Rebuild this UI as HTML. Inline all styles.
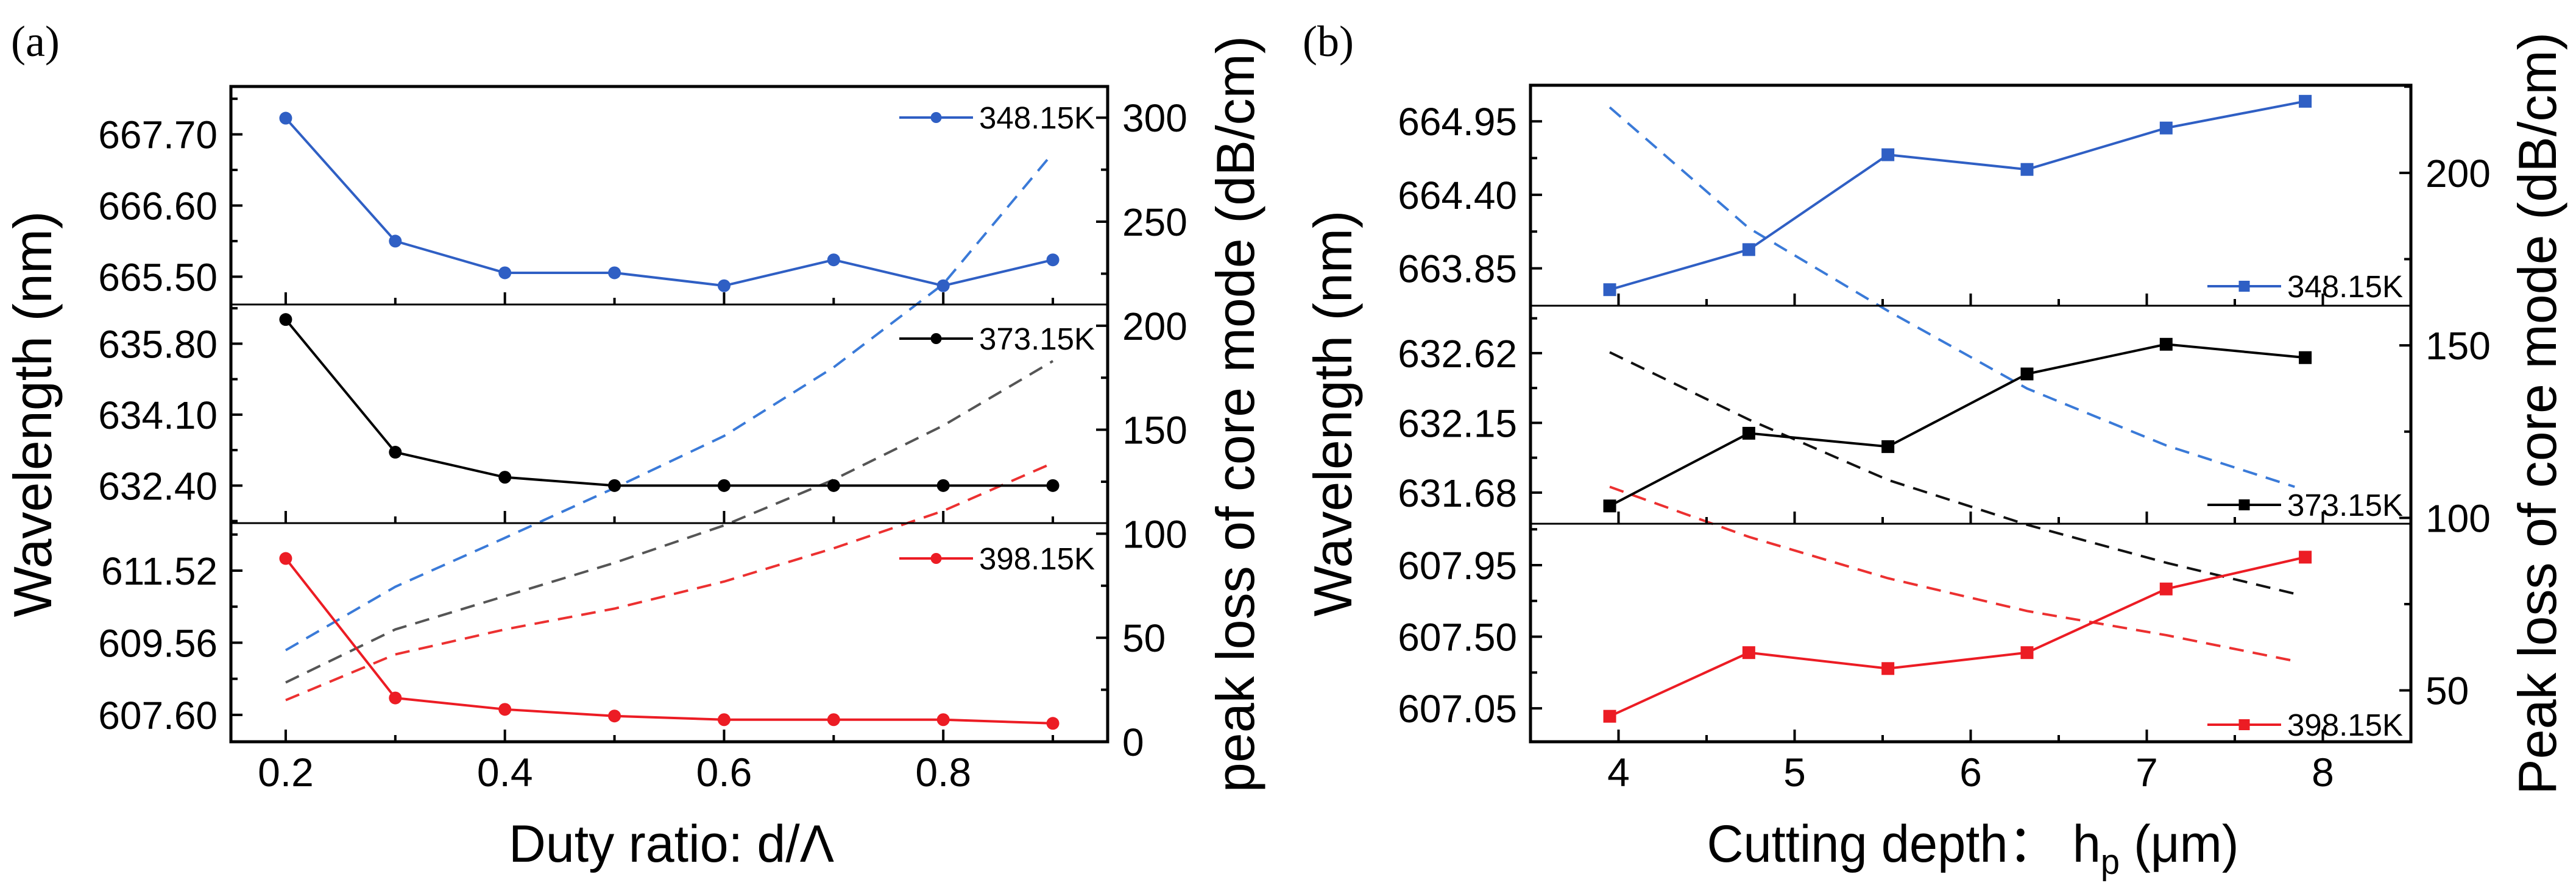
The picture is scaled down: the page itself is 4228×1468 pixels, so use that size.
<!DOCTYPE html>
<html><head><meta charset="utf-8"><style>
html,body{margin:0;padding:0;background:#fff;}
svg{display:block;font-family:"Liberation Sans",Arial,sans-serif;}
</style></head><body>
<svg id="chart" width="4228" height="1468" viewBox="0 0 4228 1468" xmlns="http://www.w3.org/2000/svg"></svg>
<script>
// ---------- Panel (a) data ----------
const aX = [0.2,0.3,0.4,0.5,0.6,0.7,0.8,0.9];
const aWl348 = [667.95,666.05,665.56,665.56,665.36,665.76,665.36,665.76];
const aWl373 = [636.38,633.20,632.60,632.40,632.40,632.40,632.40,632.40];
const aWl398 = [611.85,608.06,607.75,607.57,607.47,607.47,607.47,607.37];
const aLoss348 = [44,74.5,98,122,147,180,220,283];
const aLoss373 = [28.5,54,70,86,104,126,152,183];
const aLoss398 = [20,42,54,64,77,93,111,134];
const aXTicks = [0.2,0.4,0.6,0.8];
const aXTickLabels = ["0.2","0.4","0.6","0.8"];
const aLeftTicksTop = [667.70,666.60,665.50];
const aLeftTicksMid = [635.80,634.10,632.40];
const aLeftTicksBot = [611.52,609.56,607.60];
const aRightTicks = [0,50,100,150,200,250,300];
// ---------- Panel (b) data ----------
const bX = [3.95,4.74,5.53,6.32,7.11,7.90];
const bWl348 = [663.69,663.99,664.70,664.59,664.90,665.10];
const bWl373 = [631.59,632.08,631.99,632.48,632.68,632.59];
const bWl398 = [607.00,607.40,607.30,607.40,607.80,608.00];
const bLossX = [3.95,4.74,5.53,6.32,7.11,7.84];
const bLoss348 = [219,184,160,137.5,121,109];
const bLoss373 = [148,128.5,111,98,87,78];
const bLoss398 = [109,94.5,82.5,73,66,58.5];
const bXTicks = [4,5,6,7,8];
const bXTickLabels = ["4","5","6","7","8"];
const bLeftTicksTop = [664.95,664.40,663.85];
const bLeftTicksMid = [632.62,632.15,631.68];
const bLeftTicksBot = [607.95,607.50,607.05];
const bRightTicks = [50,100,150,200];

const svg = document.getElementById('chart');
const NS = 'http://www.w3.org/2000/svg';
function el(tag, attrs, parent){
  const e = document.createElementNS(NS, tag);
  for (const k in attrs) e.setAttribute(k, attrs[k]);
  (parent||svg).appendChild(e);
  return e;
}
function lin(d0,d1,r0,r1){ return v => r0 + (v-d0)/(d1-d0)*(r1-r0); }
function fmt(v,d){ return v.toFixed(d); }

const BLUE='#2f5fc4', BLUED='#3a7ad8', RED='#ec1c24', REDD='#ec3030', GRAYD='#555555';

function drawPanel(cfg){
  const g = el('g',{});
  
  
  const L=cfg.left,R=cfg.right,T=cfg.top,B=cfg.bottom;
  const x = lin(cfg.xmin,cfg.xmax,L,R);
  const yR = lin(cfg.rmin,cfg.rmax,B,T);
  cfg.loss.forEach((s,i)=>{
    const pts = s.vals.map((v,j)=>x(s.xs[j])+','+yR(v)).join(' ');
    const p = el('polyline',{points:pts,fill:'none',stroke:s.color,'stroke-width':4,'stroke-dasharray':'24 15'},g);
    
    
  });
  cfg.subs.forEach((sp,si)=>{
    const y = lin(sp.vmin,sp.vmax,sp.b,sp.t);
    sp.ticks.forEach((tv,k)=>{
      const ty=y(tv);
      const t=el('line',{x1:L,x2:L+19,y1:ty,y2:ty,stroke:'#000','stroke-width':4},g);
      
      
      const lab=el('text',{x:L-22,y:ty+23,'font-size':64,'text-anchor':'end',fill:'#000'},g);
      lab.textContent=fmt(tv,2);
      
      
    });
    const step = sp.ticks[0]-sp.ticks[1];
    for(let m=sp.ticks[0]+step/2; m>sp.vmin; m-=step){
      const ty=y(m); if(ty<sp.t+2||ty>sp.b-2) continue;
      const t=el('line',{x1:L,x2:L+11,y1:ty,y2:ty,stroke:'#000','stroke-width':4},g);
      
      
    }
    cfg.xAll.forEach(xv=>{
      const major = cfg.xTicks.some(v=>Math.abs(v-xv)<1e-6);
      const t=el('line',{x1:x(xv),x2:x(xv),y1:sp.b,y2:sp.b-(major?20:11),stroke:'#000','stroke-width':4},g);
      
      
    });
    const s=sp.series;
    const pts=s.vals.map((v,j)=>x(cfg.xs[j])+','+y(v)).join(' ');
    const pl=el('polyline',{points:pts,fill:'none',stroke:s.color,'stroke-width':4},g);
    
    
    s.vals.forEach((v,j)=>{
      let mk;
      if(cfg.marker==='circle') mk=el('circle',{cx:x(cfg.xs[j]),cy:y(v),r:10.5,fill:s.color},g);
      else mk=el('rect',{x:x(cfg.xs[j])-10.5,y:y(v)-10.5,width:21,height:21,fill:s.color},g);
      
      
    });
    const lg=el('g',{},g);
    
    
    const ly=sp.legendY;
    el('line',{x1:cfg.legX1,x2:cfg.legX2,y1:ly,y2:ly,stroke:s.color,'stroke-width':4},lg);
    const mx=(cfg.legX1+cfg.legX2)/2;
    if(cfg.marker==='circle') el('circle',{cx:mx,cy:ly,r:9,fill:s.color},lg);
    else el('rect',{x:mx-9,y:ly-9,width:18,height:18,fill:s.color},lg);
    const lt=el('text',{x:cfg.legX2+10,y:ly+18,'font-size':51,fill:'#000'},lg);
    lt.textContent=s.label;
    if(si<cfg.subs.length-1){
      const d=el('line',{x1:L,x2:R,y1:sp.b,y2:sp.b,stroke:'#000','stroke-width':3},g);
      
      
    }
  });
  const fr=el('rect',{x:L,y:T,width:R-L,height:B-T,fill:'none',stroke:'#000','stroke-width':5},g);
  
  
  cfg.xTicks.forEach((xv,k)=>{
    const t=el('text',{x:x(xv),y:B+73,'font-size':66,'text-anchor':'middle',fill:'#000'},g);
    t.textContent=cfg.xTickLabels[k];
    
    
  });
  cfg.rTicks.forEach(rv=>{
    const ty=yR(rv);
    const t=el('line',{x1:R,x2:R-19,y1:ty,y2:ty,stroke:'#000','stroke-width':4},g);
    
    
    const lab=el('text',{x:R+24,y:ty+23,'font-size':64,fill:'#000'},g);
    lab.textContent=String(rv);
    
    
    const m=rv+25; const my=yR(m);
    if(my>T+2){
      const mt=el('line',{x1:R,x2:R-11,y1:my,y2:my,stroke:'#000','stroke-width':4},g);
      
      
    }
  });
  const mm=cfg.rTicks[0]-25; if(yR(mm)<B-2){
    const mt=el('line',{x1:R,x2:R-11,y1:yR(mm),y2:yR(mm),stroke:'#000','stroke-width':4},g);
    
    
  }
  const cy=(T+B)/2;
  const lt=el('text',{x:cfg.leftTitleX,y:cy,'font-size':88,'text-anchor':'middle',transform:`rotate(-90 ${cfg.leftTitleX} ${cy})`,fill:'#000'},g);
  lt.textContent='Wavelength (nm)';
  
  
  const rt=el('text',{x:cfg.rightTitleX,y:cy,'font-size':88,'text-anchor':'middle',transform:`rotate(-90 ${cfg.rightTitleX} ${cy})`,fill:'#000'},g);
  rt.textContent=cfg.rightTitle;
  
  
  const xt=el('text',{x:cfg.xTitleX,y:1415,'font-size':86,'text-anchor':'middle',fill:'#000',textLength:cfg.xTitleLen,lengthAdjust:'spacingAndGlyphs'},g);
  if(cfg.xTitleSub){
    xt.appendChild(document.createTextNode(cfg.xTitle));
    const ts=el('tspan',{'font-size':58,dy:20},xt); ts.textContent='p';
    const ts2=el('tspan',{dy:-20},xt); ts2.textContent=' (\u03bcm)';
  } else xt.textContent=cfg.xTitle;
  
  
  const pl=el('text',{x:cfg.labelX,y:92,'font-size':72,'font-family':'Liberation Serif, serif',fill:'#000'},g);
  pl.textContent=cfg.panelLabel;
  
  
}

drawPanel({
  name:'panel-a', panelLabel:'(a)', labelX:18, left:379,right:1818,top:142,bottom:1218,
  xmin:0.15,xmax:0.95, xs:aX, xTicks:aXTicks, xTickLabels:aXTickLabels,
  xAll:[0.2,0.3,0.4,0.5,0.6,0.7,0.8,0.9], rmin:0,rmax:315, rTicks:aRightTicks,
  marker:'circle', legX1:1476,legX2:1597,
  leftTitleX:84, rightTitleX:2058, rightTitle:'peak loss of core mode (dB/cm)',
  xTitle:'Duty ratio: d/\u039b', xTitleX:1102, xTitleLen:534,
  loss:[{name:'loss-348K-dashed',xs:aX,vals:aLoss348,color:BLUED},
        {name:'loss-373K-dashed',xs:aX,vals:aLoss373,color:GRAYD},
        {name:'loss-398K-dashed',xs:aX,vals:aLoss398,color:REDD}],
  subs:[
    {t:142,b:500,vmin:665.07,vmax:668.44,ticks:aLeftTicksTop,legendY:193,series:{name:'wavelength-348K',label:'348.15K',vals:aWl348,color:BLUE}},
    {t:500,b:859,vmin:631.50,vmax:636.74,ticks:aLeftTicksMid,legendY:556,series:{name:'wavelength-373K',label:'373.15K',vals:aWl373,color:'#000'}},
    {t:859,b:1218,vmin:606.87,vmax:612.81,ticks:aLeftTicksBot,legendY:917,series:{name:'wavelength-398K',label:'398.15K',vals:aWl398,color:RED}}
  ]
});
drawPanel({
  name:'panel-b', panelLabel:'(b)', labelX:2138, left:2512,right:3957,top:140,bottom:1218,
  xmin:3.5,xmax:8.5, xs:bX, xTicks:bXTicks, xTickLabels:bXTickLabels,
  xAll:[4,4.5,5,5.5,6,6.5,7,7.5,8], rmin:35.1,rmax:225.4, rTicks:bRightTicks,
  marker:'square', legX1:3623,legX2:3744,
  leftTitleX:2218, rightTitleX:4195, rightTitle:'Peak loss of core mode (dB/cm)',
  xTitle:'Cutting depth\uff1a h', xTitleSub:true, xTitleX:3238, xTitleLen:873,
  loss:[{name:'loss-348K-dashed',xs:bLossX,vals:bLoss348,color:BLUED},
        {name:'loss-373K-dashed',xs:bLossX,vals:bLoss373,color:'#111'},
        {name:'loss-398K-dashed',xs:bLossX,vals:bLoss398,color:REDD}],
  subs:[
    {t:140,b:502,vmin:663.57,vmax:665.22,ticks:bLeftTicksTop,legendY:470,series:{name:'wavelength-348K',label:'348.15K',vals:bWl348,color:BLUE}},
    {t:502,b:860,vmin:631.47,vmax:632.94,ticks:bLeftTicksMid,legendY:829,series:{name:'wavelength-373K',label:'373.15K',vals:bWl373,color:'#000'}},
    {t:860,b:1218,vmin:606.84,vmax:608.21,ticks:bLeftTicksBot,legendY:1190,series:{name:'wavelength-398K',label:'398.15K',vals:bWl398,color:RED}}
  ]
});
</script>
</body></html>
